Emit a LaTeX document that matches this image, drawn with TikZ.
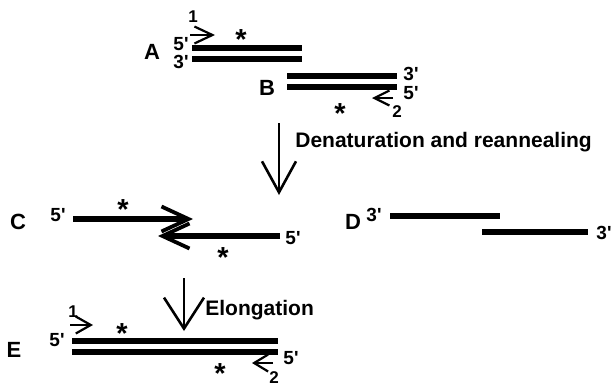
\documentclass[tikz,border=0pt]{standalone}
\usepackage{fontspec}
\setmainfont{Liberation Sans}
\usepackage{tikz}
\usetikzlibrary{arrows.meta}

\newcommand{\dnastar}{\raisebox{-0.43em}[0.3em][0pt]{*}}

\tikzset{
  strand/.style={line width=2.7pt},
  primer/.style={line width=1.1pt, -{Straight Barb[length=8pt,width=8.5pt]}},
  bigarrow/.style={line width=1.3pt, -{Straight Barb[length=15.5pt,width=19pt]}},
  halfarrow/.style={line width=2.7pt, -{Straight Barb[length=13.5pt,width=12.5pt,line width=1.9pt]}},
  rowlbl/.style={font=\fontsize{11}{13}\selectfont\bfseries, inner sep=0pt},
  endlbl/.style={font=\fontsize{9.5}{11}\selectfont\bfseries, inner sep=0pt},
  numlbl/.style={font=\fontsize{8.5}{10}\selectfont\bfseries, inner sep=0pt},
  steptxt/.style={font=\fontsize{10.5}{12}\selectfont\bfseries, inner sep=0pt, anchor=west},
  starlbl/.style={font=\fontsize{14.5}{15}\selectfont\bfseries, inner sep=0pt}
}

\begin{document}
\begin{tikzpicture}[x=0.5pt, y=-0.5pt]

  \useasboundingbox (0,0) rectangle (611,387);

  %% A: primers on the duplex
  \node[rowlbl] (labA) at (152,52) {A};
  \node[endlbl] (a5) at (181,44) {5\textquotesingle};
  \node[endlbl] (a3) at (181,62) {3\textquotesingle};
  \coordinate (aTopL) at (192,48);  \coordinate (aTopR) at (302,48);
  \coordinate (aBotL) at (192,59);  \coordinate (aBotR) at (302,59);
  \draw[strand] (aTopL) -- (aTopR);
  \draw[strand] (aBotL) -- (aBotR);
  \node[numlbl] (a1) at (193,17) {1};
  \coordinate (p1s) at (190,35); \coordinate (p1t) at (215,35);
  \draw[primer, -{Straight Barb[length=9pt,width=8.5pt]}] (p1s) -- (p1t);
  \node[starlbl] (aStar) at (241,33) {\dnastar};

  %% B
  \node[rowlbl] (labB) at (267,88) {B};
  \coordinate (bTopL) at (287,76);  \coordinate (bTopR) at (397,76);
  \coordinate (bBotL) at (287,87);  \coordinate (bBotR) at (397,87);
  \draw[strand] (bTopL) -- (bTopR);
  \draw[strand] (bBotL) -- (bBotR);
  \node[endlbl] (b3) at (411,74) {3\textquotesingle};
  \node[endlbl] (b5) at (411,93) {5\textquotesingle};
  \coordinate (p2s) at (393,98); \coordinate (p2t) at (372,98);
  \draw[primer, -{Straight Barb[length=7.5pt,width=7.5pt]}] (p2s) -- (p2t);
  \node[numlbl] (b2) at (397,112) {2};
  \node[starlbl] (bStar) at (340,107) {\dnastar};

  %% step 1
  \coordinate (s1top) at (279,123); \coordinate (s1tip) at (279,195);
  \draw[bigarrow, -{Straight Barb[length=15.5pt,width=17pt]}] (s1top) -- (s1tip);
  \node[steptxt] (denat) at (295,142) {Denaturation and reannealing};

  %% C
  \node[rowlbl] (labC) at (18,222) {C};
  \node[endlbl] (c5a) at (58,215) {5\textquotesingle};
  \coordinate (cTopL) at (73,219); \coordinate (cTopR) at (193,219);
  \draw[halfarrow] (cTopL) -- (cTopR);
  \node[starlbl] (cStarA) at (123,203) {\dnastar};
  \coordinate (cBotR) at (280,236); \coordinate (cBotL) at (158,236);
  \draw[halfarrow] (cBotR) -- (cBotL);
  \node[endlbl] (c5b) at (293,238) {5\textquotesingle};
  \node[starlbl] (cStarB) at (223,251) {\dnastar};

  %% D
  \node[rowlbl] (labD) at (353,222) {D};
  \node[endlbl] (d3a) at (374,215) {3\textquotesingle};
  \coordinate (dTopL) at (390,216); \coordinate (dTopR) at (500,216);
  \coordinate (dBotL) at (482,232); \coordinate (dBotR) at (588,232);
  \draw[strand] (dTopL) -- (dTopR);
  \draw[strand] (dBotL) -- (dBotR);
  \node[endlbl] (d3b) at (604,233) {3\textquotesingle};

  %% step 2
  \coordinate (s2top) at (184,278); \coordinate (s2tip) at (184,331);
  \draw[bigarrow, -{Straight Barb[length=15.5pt,width=20pt]}] (s2top) -- (s2tip);
  \node[steptxt] (elong) at (205,310) {Elongation};

  %% E
  \node[rowlbl] (labE) at (14,350) {E};
  \node[endlbl] (e5a) at (57,340) {5\textquotesingle};
  \coordinate (eTopL) at (72,341); \coordinate (eTopR) at (278,341);
  \coordinate (eBotL) at (72,352); \coordinate (eBotR) at (278,352);
  \draw[strand] (eTopL) -- (eTopR);
  \draw[strand] (eBotL) -- (eBotR);
  \node[numlbl] (e1) at (73,312) {1};
  \coordinate (q1s) at (70,325); \coordinate (q1t) at (93,325);
  \draw[primer, -{Straight Barb[length=7.5pt,width=8.5pt]}] (q1s) -- (q1t);
  \node[starlbl] (eStarA) at (122,327) {\dnastar};
  \coordinate (q2s) at (273,363); \coordinate (q2t) at (252,363);
  \draw[primer, -{Straight Barb[length=7pt,width=8.5pt]}] (q2s) -- (q2t);
  \node[numlbl] (e2) at (274,378) {2};
  \node[endlbl] (e5b) at (291,358) {5\textquotesingle};
  \node[starlbl] (eStarB) at (220,367) {\dnastar};

\end{tikzpicture}
\end{document}
